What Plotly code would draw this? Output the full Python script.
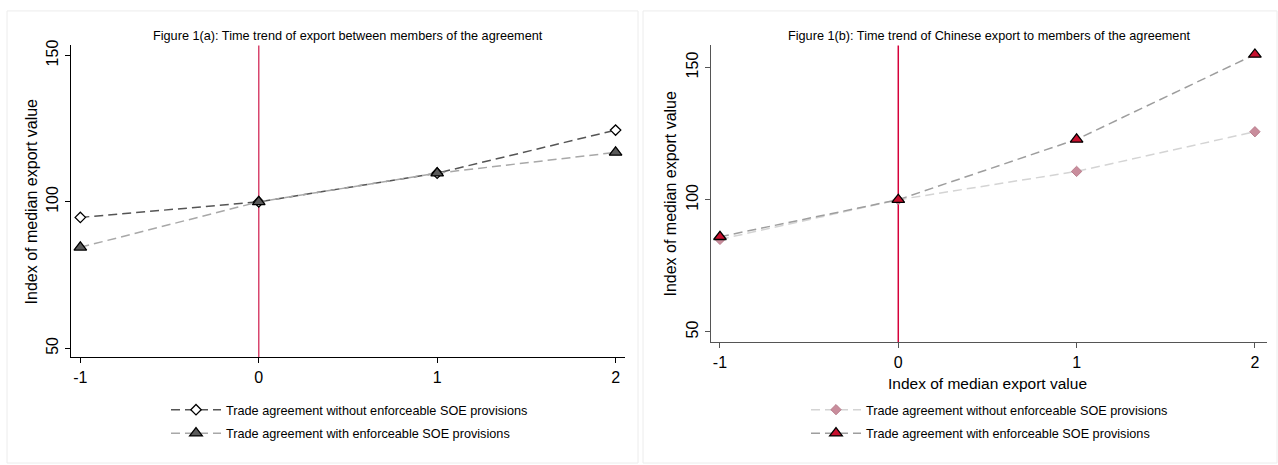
import plotly.graph_objects as go

# Event-time index (years relative to agreement entry into force)
periods = [-1, 0, 1, 2]
tick_labels = ["-1", "0", "1", "2"]

# Panel (a): export between members of the agreement
a_without = [94.7, 100.0, 109.8, 124.5]
a_with = [84.5, 100.0, 109.8, 116.9]

# Panel (b): Chinese export to members of the agreement
b_without = [85.0, 100.0, 110.7, 125.7]
b_with = [86.0, 100.0, 122.8, 154.9]

label_without = "Trade agreement without enforceable SOE provisions"
label_with = "Trade agreement with enforceable SOE provisions"

W, H = 1278, 465
FONT = "Liberation Sans, Arial, sans-serif"
DASH = "9px,5px"


def px_x(v):
    return v / W


def px_y(v):
    return 1 - v / H


fig = go.Figure()

# ---- panel (a)
fig.add_trace(go.Scatter(
    x=periods, y=a_without, name=label_without, mode="lines+markers",
    line=dict(color="#555555", width=1.5, dash=DASH),
    marker=dict(symbol="diamond", size=8, color="white",
                line=dict(color="black", width=1.3)),
    xaxis="x", yaxis="y", legend="legend", legendgroup="a_without"))
fig.add_trace(go.Scatter(
    x=periods, y=a_with, name=label_with, mode="lines+markers",
    line=dict(color="#a8a8a8", width=1.5, dash=DASH),
    marker=dict(symbol="triangle-up", size=11, color="#5a5a5a",
                line=dict(color="black", width=1.3)),
    xaxis="x", yaxis="y", legend="legend", legendgroup="a_with"))

# ---- panel (b)
fig.add_trace(go.Scatter(
    x=periods, y=b_without, name=label_without, mode="lines+markers",
    line=dict(color="#d4d4d4", width=1.5, dash=DASH),
    marker=dict(symbol="diamond", size=8, color="#c98d9c",
                line=dict(color="#b07080", width=0.8)),
    xaxis="x2", yaxis="y2", legend="legend2", legendgroup="b_without"))
fig.add_trace(go.Scatter(
    x=periods, y=b_with, name=label_with, mode="lines+markers",
    line=dict(color="#9e9e9e", width=1.5, dash=DASH),
    marker=dict(symbol="triangle-up", size=11, color="#c8102e",
                line=dict(color="black", width=1.3)),
    xaxis="x2", yaxis="y2", legend="legend2", legendgroup="b_with"))

axis_common = dict(
    showgrid=False, zeroline=False, showline=True, ticks="outside",
    ticklen=5, tickwidth=1,
    tickfont=dict(family=FONT, size=16, color="black"),
)

legend_common = dict(
    xanchor="left", yanchor="top", bgcolor="rgba(0,0,0,0)", itemwidth=50,
    font=dict(family=FONT, size=12.7, color="black"), tracegroupgap=4,
)

fig.update_layout(
    width=W, height=H,
    margin=dict(l=0, r=0, t=0, b=0),
    paper_bgcolor="white", plot_bgcolor="white",
    font=dict(family=FONT, color="black"),
    xaxis=dict(axis_common, domain=[px_x(70.7), px_x(624.5)],
               range=[-1.054, 2.05], tickvals=periods, ticktext=tick_labels,
               linecolor="black", tickcolor="black", anchor="y"),
    yaxis=dict(axis_common, domain=[px_y(356), px_y(40)],
               range=[46.9, 153.4], tickvals=[50, 100, 150],
               tickangle=-90, linecolor="black", tickcolor="black",
               anchor="x"),
    xaxis2=dict(axis_common, domain=[px_x(710.7), px_x(1266.5)],
                range=[-1.052, 2.065], tickvals=periods, ticktext=tick_labels,
                linecolor="#555555", tickcolor="#555555", anchor="y2"),
    yaxis2=dict(axis_common, domain=[px_y(340.7), px_y(40)],
                range=[46.1, 158.3], tickvals=[50, 100, 150],
                tickangle=-90, linecolor="#555555", tickcolor="#555555",
                anchor="x2"),
    legend=dict(legend_common, x=px_x(166), y=px_y(394)),
    legend2=dict(legend_common, x=px_x(806), y=px_y(394)),
    showlegend=True,
)

# panel frames
fig.add_shape(type="rect", xref="paper", yref="paper",
              x0=px_x(7), x1=px_x(638), y0=px_y(463), y1=px_y(5),
              line=dict(color="#ececec", width=1), layer="below")
fig.add_shape(type="rect", xref="paper", yref="paper",
              x0=px_x(643), x1=px_x(1277), y0=px_y(463), y1=px_y(5),
              line=dict(color="#ececec", width=1), layer="below")

# reference lines at period 0
fig.add_shape(type="line", xref="x", yref="y domain", x0=0, x1=0, y0=0, y1=1,
              line=dict(color="#d8466e", width=1.5), layer="below")
fig.add_shape(type="line", xref="x2", yref="y2 domain", x0=0, x1=0, y0=0, y1=1,
              line=dict(color="#d6003a", width=1.5), layer="below")

text_common = dict(xref="paper", yref="paper", showarrow=False,
                   xanchor="center", yanchor="middle")

# titles
fig.add_annotation(text="Figure 1(a): Time trend of export between members of the agreement",
                   x=px_x(348), y=px_y(30),
                   font=dict(family=FONT, size=12.7, color="black"), **text_common)
fig.add_annotation(text="Figure 1(b): Time trend of Chinese export to members of the agreement",
                   x=px_x(989), y=px_y(30),
                   font=dict(family=FONT, size=12.7, color="black"), **text_common)

# axis titles
fig.add_annotation(text="Index of median export value", textangle=-90,
                   x=px_x(31), y=px_y(198),
                   font=dict(family=FONT, size=16, color="black"), **text_common)
fig.add_annotation(text="Index of median export value", textangle=-90,
                   x=px_x(671), y=px_y(190),
                   font=dict(family=FONT, size=16, color="black"), **text_common)
fig.add_annotation(text="Index of median export value",
                   x=px_x(988), y=px_y(382),
                   font=dict(family=FONT, size=15.5, color="black"), **text_common)

fig.write_html("out.html")
